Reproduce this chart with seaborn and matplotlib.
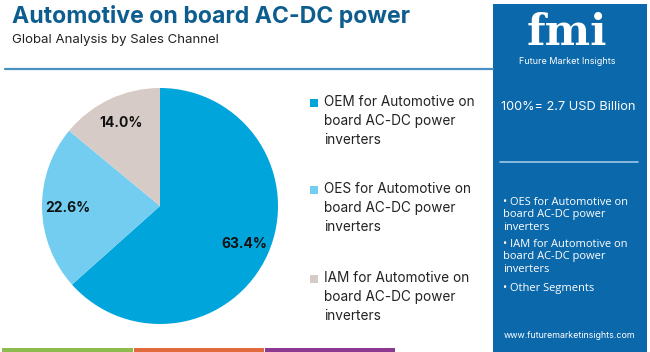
import matplotlib
matplotlib.use("Agg")
import matplotlib.pyplot as plt
import seaborn as sns
from matplotlib.patches import Rectangle

segments = ["OEM for Automotive on\nboard AC-DC power\ninverters",
            "OES for Automotive on\nboard AC-DC power\ninverters",
            "IAM for Automotive on\nboard AC-DC power\ninverters"]
shares = [63.4, 22.6, 14.0]
colors = ["#00a5dc", "#72cdf1", "#d6cbc6"]
side_items = ["• OES for Automotive on\nboard AC-DC power\ninverters",
              "• IAM for Automotive on\nboard AC-DC power\ninverters",
              "• Other Segments"]

sns.set_theme(style="white")
plt.rcParams['font.family'] = ['Inter', 'DejaVu Sans']

W, H = 650, 352
fig = plt.figure(figsize=(6.5, 3.52), dpi=100)
fig.patch.set_facecolor("white")


def fx(x):
    return x / W


def fy(y):
    return 1 - y / H


# title block
fig.text(fx(12), fy(17), "Automotive on board AC-DC power", fontsize=16.6,
         fontweight="bold", color="#0e5d8f", va="center", ha="left")
fig.text(fx(12), fy(40), "Global Analysis by Sales Channel", fontsize=9.5,
         color="#222222", va="center", ha="left")
fig.add_artist(plt.Line2D([fx(5), fx(493)], [fy(69), fy(69)], color="#4a8fc0", lw=1.6))

# bottom colour strip
for x0, x1, c in [(2, 133, "#8dbb4f"), (134, 264, "#e06a3b"), (265, 395, "#8b3a8f")]:
    fig.add_artist(Rectangle((fx(x0), 0), fx(x1 - x0), fy(348), color=c, lw=0))

# right panel
fig.add_artist(Rectangle((fx(493), 0), fx(154), fy(4), color="#0b68ab", lw=0))
fig.text(fx(567), fy(33), "fmi", fontsize=31, fontweight="bold", family="DejaVu Serif",
         color="white", ha="center", va="center")
fig.text(fx(567), fy(61), "Future Market Insights", fontsize=6.5, color="white",
         ha="center", va="center")
fig.text(fx(568), fy(107), "100%= 2.7 USD Billion", fontsize=9.2, color="white",
         ha="center", va="center")
fig.add_artist(plt.Line2D([fx(500), fx(638)], [fy(162), fy(162)], color="#9fc8e6", lw=1.2))
for txt, y in zip(side_items, [215, 257, 289]):
    fig.text(fx(503), fy(y), txt, fontsize=8, color="white", ha="left", va="center",
             linespacing=1.2, family=['Open Sans', 'DejaVu Sans'])
fig.text(fx(570), fy(336), "www.futuremarketinsights.com", fontsize=6.4, color="white",
         ha="center", va="center")

# pie
ax = fig.add_axes([fx(42), fy(324), fx(236), 236 / H])
wedges, _, autotexts = ax.pie(shares, colors=colors, startangle=90, counterclock=False,
                              autopct="%.1f%%", pctdistance=0.78,
                              wedgeprops=dict(linewidth=0))
for t in autotexts:
    t.set_fontsize(10)
    t.set_fontweight("bold")
    t.set_color("#111111")
ax.set_aspect("equal")
ax.set_xlim(-1, 1)
ax.set_ylim(-1, 1)
ax.axis("off")

# legend
for txt, c, y in zip(segments, colors, [103, 190, 279]):
    fig.add_artist(Rectangle((fx(310), fy(y + 4)), fx(8), 8 / H, color=c, lw=0))
    fig.text(fx(324), fy(y - 8), txt, fontsize=9.8, color="#222222", ha="left", va="top",
             linespacing=1.45)

fig.savefig("out.png", dpi=100)
